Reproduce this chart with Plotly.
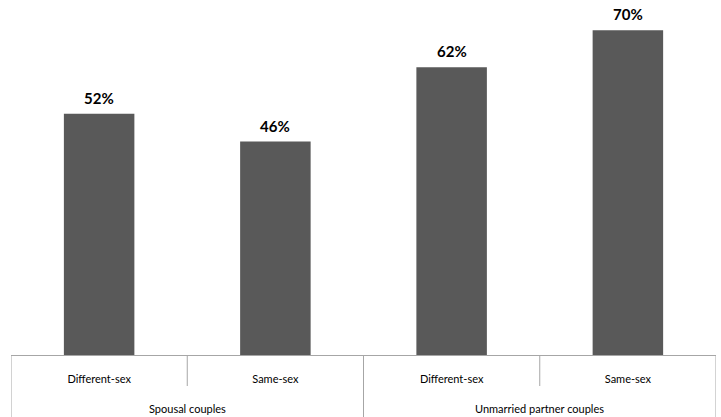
import plotly.graph_objects as go

groups = ["Spousal couples", "Spousal couples", "Unmarried partner couples", "Unmarried partner couples"]
subcats = ["Different-sex", "Same-sex", "Different-sex", "Same-sex"]
values = [52, 46, 62, 70]
labels = ["52%", "46%", "62%", "70%"]

pos = list(range(len(values)))
LINE = "#a6a6a6"
PLOT_H = 417 - 62  # plot area height in px

fig = go.Figure(go.Bar(
    x=pos,
    y=values,
    marker=dict(color="#595959", line=dict(width=0)),
    width=0.4,
    hoverinfo="skip",
))

# dividers: subcategory boundaries (short) and group boundaries (full height)
shapes = []
group_names = []
for g in groups:
    if g not in group_names:
        group_names.append(g)
bounds = [-0.5]
for i in range(1, len(groups)):
    if groups[i] != groups[i - 1]:
        bounds.append(i - 0.5)
bounds.append(len(groups) - 0.5)
for b in bounds:
    shapes.append(dict(type="line", xref="x", yref="paper", x0=b, x1=b,
                       y0=0, y1=-62 / PLOT_H, line=dict(color=LINE, width=1)))
for i in range(1, len(groups)):
    if groups[i] == groups[i - 1]:
        shapes.append(dict(type="line", xref="x", yref="paper", x0=i - 0.5, x1=i - 0.5,
                           y0=0, y1=-31 / PLOT_H, line=dict(color=LINE, width=1)))

annotations = []
for g in group_names:
    idx = [i for i, gg in enumerate(groups) if gg == g]
    annotations.append(dict(x=sum(idx) / len(idx), xref="x", y=-53 / PLOT_H, yref="paper",
                            text=g, showarrow=False, xanchor="center", yanchor="middle",
                            font=dict(family="Lato, sans-serif", size=11, color="#000000")))
# value labels above bars
for p, v, t in zip(pos, values, labels):
    annotations.append(dict(x=p, y=v, xref="x", yref="y", text="<b>" + t + "</b>",
                            showarrow=False, xanchor="center", yanchor="bottom", yshift=5,
                            font=dict(family="Lato, sans-serif", size=15, color="#000000")))

fig.update_layout(
    width=721, height=417,
    margin=dict(l=11, r=5, t=0, b=62),
    paper_bgcolor="white", plot_bgcolor="white",
    showlegend=False,
    font=dict(family="Lato, sans-serif", size=11, color="#000000"),
    xaxis=dict(
        range=[-0.5, len(values) - 0.5],
        tickmode="array", tickvals=pos, ticktext=subcats,
        showline=True, linecolor=LINE, linewidth=1,
        ticks="", ticklabelstandoff=14,
        tickfont=dict(size=11),
        showgrid=False, zeroline=False, automargin=False, fixedrange=True,
    ),
    yaxis=dict(range=[0, 76.5], visible=False, showgrid=False, automargin=False, fixedrange=True),
    shapes=shapes,
    annotations=annotations,
)

fig.write_html("out.html", config={"displayModeBar": False},
               post_script="document.body.style.margin='0';document.body.style.overflow='hidden';")
